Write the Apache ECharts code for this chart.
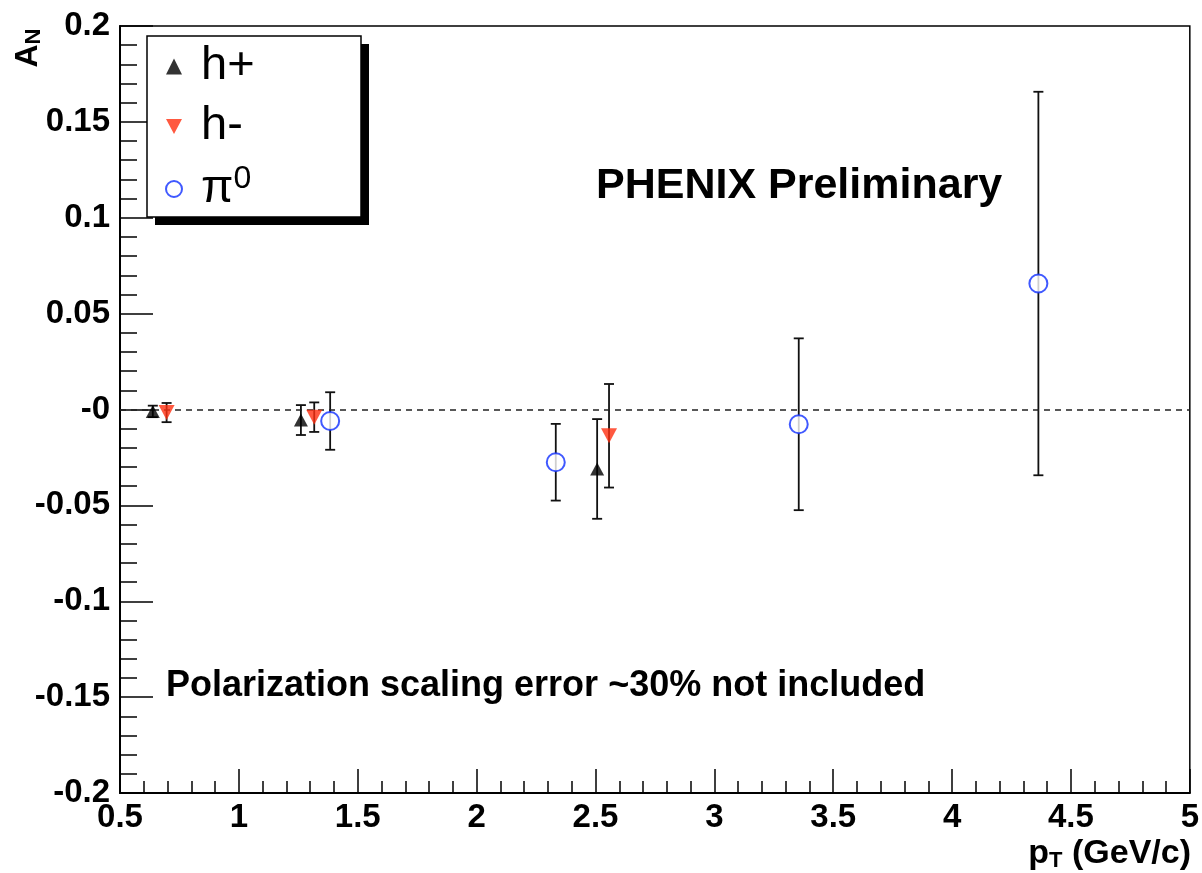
<!DOCTYPE html>
<html>
<head>
<meta charset="utf-8">
<title>PHENIX A_N vs pT</title>
<script src="https://cdn.jsdelivr.net/npm/echarts@6/dist/echarts.min.js"></script>
<style>
  html, body { margin: 0; padding: 0; background: #fff; }
  #chart { width: 1202px; height: 873px; }
</style>
</head>
<body>
<div id="chart"></div>
<script>
// Transverse single-spin asymmetry A_N versus pT for h+, h- and pi0
const seriesNames = ['h+', 'h-', 'π0'];

const hPlusPt  = [0.638, 1.261, 2.507];
const hPlusAN  = [-0.001, -0.0055, -0.031];
const hPlusErr = [0.003, 0.0078, 0.026];

const hMinusPt  = [0.696, 1.317, 2.557];
const hMinusAN  = [-0.0016, -0.004, -0.0137];
const hMinusErr = [0.005, 0.0077, 0.027];

const pi0Pt  = [1.384, 2.333, 3.355, 4.363];
const pi0AN  = [-0.006, -0.0275, -0.0077, 0.0657];
const pi0Err = [0.015, 0.02, 0.0448, 0.1];

const xTickMin = 0.5, xTickMax = 5, xTickStep = 0.5;
const yTickMin = -0.2, yTickMax = 0.2, yTickStep = 0.05;

const RED = '#ff3010';
const BLUE = '#1030ff';
const FONT = '"Liberation Sans", Arial, Helvetica, sans-serif';

function points(xs, ys) { return xs.map((x, i) => [x, ys[i]]); }
function errPoints(xs, ys, es) { return xs.map((x, i) => [x, ys[i], es[i]]); }

// vertical error bar with short end caps
function errorBarRender(params, api) {
  const x = api.value(0), y = api.value(1), e = api.value(2);
  const top = api.coord([x, y + e]);
  const bot = api.coord([x, y - e]);
  const cap = 5;
  const style = { stroke: '#111', lineWidth: 1.8 };
  return {
    type: 'group',
    children: [
      { type: 'line', shape: { x1: top[0], y1: top[1], x2: bot[0], y2: bot[1] }, style },
      { type: 'line', shape: { x1: top[0] - cap, y1: top[1], x2: top[0] + cap, y2: top[1] }, style },
      { type: 'line', shape: { x1: bot[0] - cap, y1: bot[1], x2: bot[0] + cap, y2: bot[1] }, style }
    ]
  };
}

function errorSeries(data) {
  return {
    type: 'custom',
    renderItem: errorBarRender,
    data: data,
    encode: { x: 0, y: 1 },
    z: 2,
    silent: true
  };
}

const downTriangle = 'path://M0,0L10,0L5,9.4Z';

const chart = echarts.init(document.getElementById('chart'), null, { renderer: 'canvas' });

chart.setOption({
  animation: false,
  backgroundColor: '#fff',
  grid: {
    left: 120, right: 9, top: 26, bottom: 80,
    show: true, borderColor: '#000', borderWidth: 1.5, backgroundColor: 'transparent'
  },
  xAxis: {
    type: 'value',
    min: xTickMin, max: xTickMax, interval: xTickStep,
    axisLine: { show: true, onZero: false, lineStyle: { color: '#000', width: 2 } },
    axisTick: { inside: true, length: 24, lineStyle: { color: '#000', width: 1.5 } },
    minorTick: { show: true, splitNumber: 5, length: 12, lineStyle: { color: '#000', width: 1.5 } },
    splitLine: { show: false },
    axisLabel: {
      showMinLabel: true, showMaxLabel: true,
      margin: 8,
      color: '#000', fontSize: 33, fontWeight: 'bold', fontFamily: FONT,
      formatter: v => String(parseFloat(v.toFixed(2)))
    }
  },
  yAxis: {
    type: 'value',
    min: yTickMin, max: yTickMax, interval: yTickStep,
    axisLine: { show: true, onZero: false, lineStyle: { color: '#000', width: 2 } },
    axisTick: { inside: true, length: 33, lineStyle: { color: '#000', width: 1.5 } },
    minorTick: { show: true, splitNumber: 5, length: 17, lineStyle: { color: '#000', width: 1.5 } },
    splitLine: { show: false },
    axisLabel: {
      showMinLabel: true, showMaxLabel: true,
      margin: 10,
      color: '#000', fontSize: 33, fontWeight: 'bold', fontFamily: FONT,
      formatter: v => (Math.abs(v) < 1e-9 ? '-0' : String(parseFloat(v.toFixed(2))))
    }
  },
  legend: {
    orient: 'vertical',
    left: 160, top: 38,
    itemWidth: 16, itemHeight: 16,
    itemGap: 13,
    selectedMode: false,
    data: seriesNames,
    formatter: name => (name === 'π0' ? '{p|π}{s|0}' : '{n|' + name + '}'),
    textStyle: {
      color: '#000', fontFamily: FONT, fontSize: 47,
      padding: [0, 0, 0, 14],
      rich: {
        n: { fontSize: 47, fontFamily: FONT, color: '#000', lineHeight: 52 },
        p: { fontSize: 47, fontFamily: FONT, color: '#000', lineHeight: 52 },
        s: { fontSize: 32, fontFamily: FONT, color: '#000', lineHeight: 52, verticalAlign: 'top', padding: [0, 0, 14, 0] }
      }
    }
  },
  graphic: [
    // legend frame with drop shadow
    { type: 'rect', z: 0, shape: { x: 155, y: 44, width: 214, height: 181 }, style: { fill: '#000' } },
    { type: 'rect', z: 1, shape: { x: 147, y: 36, width: 214, height: 181 }, style: { fill: '#fff', stroke: '#000', lineWidth: 1.5 } },
    {
      type: 'text', x: 596, y: 186, z: 10,
      style: { text: 'PHENIX Preliminary', font: 'bold 43px ' + FONT, fill: '#000', textVerticalAlign: 'middle' }
    },
    {
      type: 'text', x: 166, y: 686, z: 10,
      style: { text: 'Polarization scaling error ~30% not included', font: 'bold 36px ' + FONT, fill: '#000', textVerticalAlign: 'middle' }
    },
    {
      type: 'text', x: 1191, y: 854, z: 10,
      style: {
        text: '{b|p}{t|T}{b| (GeV/c)}',
        textAlign: 'right', textVerticalAlign: 'middle',
        rich: {
          b: { font: 'bold 34px ' + FONT, fill: '#000', lineHeight: 36 },
          t: { font: 'bold 22px ' + FONT, fill: '#000', lineHeight: 36, verticalAlign: 'bottom', padding: [10, 0, 0, 0] }
        }
      }
    },
    {
      type: 'text', x: 28, y: 48, z: 10, rotation: Math.PI / 2,
      style: {
        text: '{b|A}{t|N}',
        textAlign: 'center', textVerticalAlign: 'middle',
        rich: {
          b: { font: 'bold 32px ' + FONT, fill: '#000', lineHeight: 34 },
          t: { font: 'bold 22px ' + FONT, fill: '#000', lineHeight: 34, verticalAlign: 'bottom', padding: [10, 0, 0, 0] }
        }
      }
    }
  ],
  series: [
    errorSeries(errPoints(hPlusPt, hPlusAN, hPlusErr)),
    errorSeries(errPoints(hMinusPt, hMinusAN, hMinusErr)),
    errorSeries(errPoints(pi0Pt, pi0AN, pi0Err)),
    {
      name: 'h+', type: 'scatter', z: 5,
      symbol: 'triangle', symbolSize: [14, 13],
      itemStyle: { color: '#000' },
      data: points(hPlusPt, hPlusAN),
      markLine: {
        silent: true, symbol: 'none', label: { show: false },
        lineStyle: { color: '#222', type: [6, 5], width: 1.7 },
        data: [{ yAxis: 0 }]
      }
    },
    {
      name: 'h-', type: 'scatter', z: 5,
      symbol: downTriangle, symbolSize: [16, 15],
      itemStyle: { color: RED },
      data: points(hMinusPt, hMinusAN)
    },
    {
      name: 'π0', type: 'scatter', z: 5,
      symbol: 'circle', symbolSize: 18,
      itemStyle: { color: '#fff', borderColor: BLUE, borderWidth: 2 },
      data: points(pi0Pt, pi0AN)
    }
  ]
});
</script>
</body>
</html>
